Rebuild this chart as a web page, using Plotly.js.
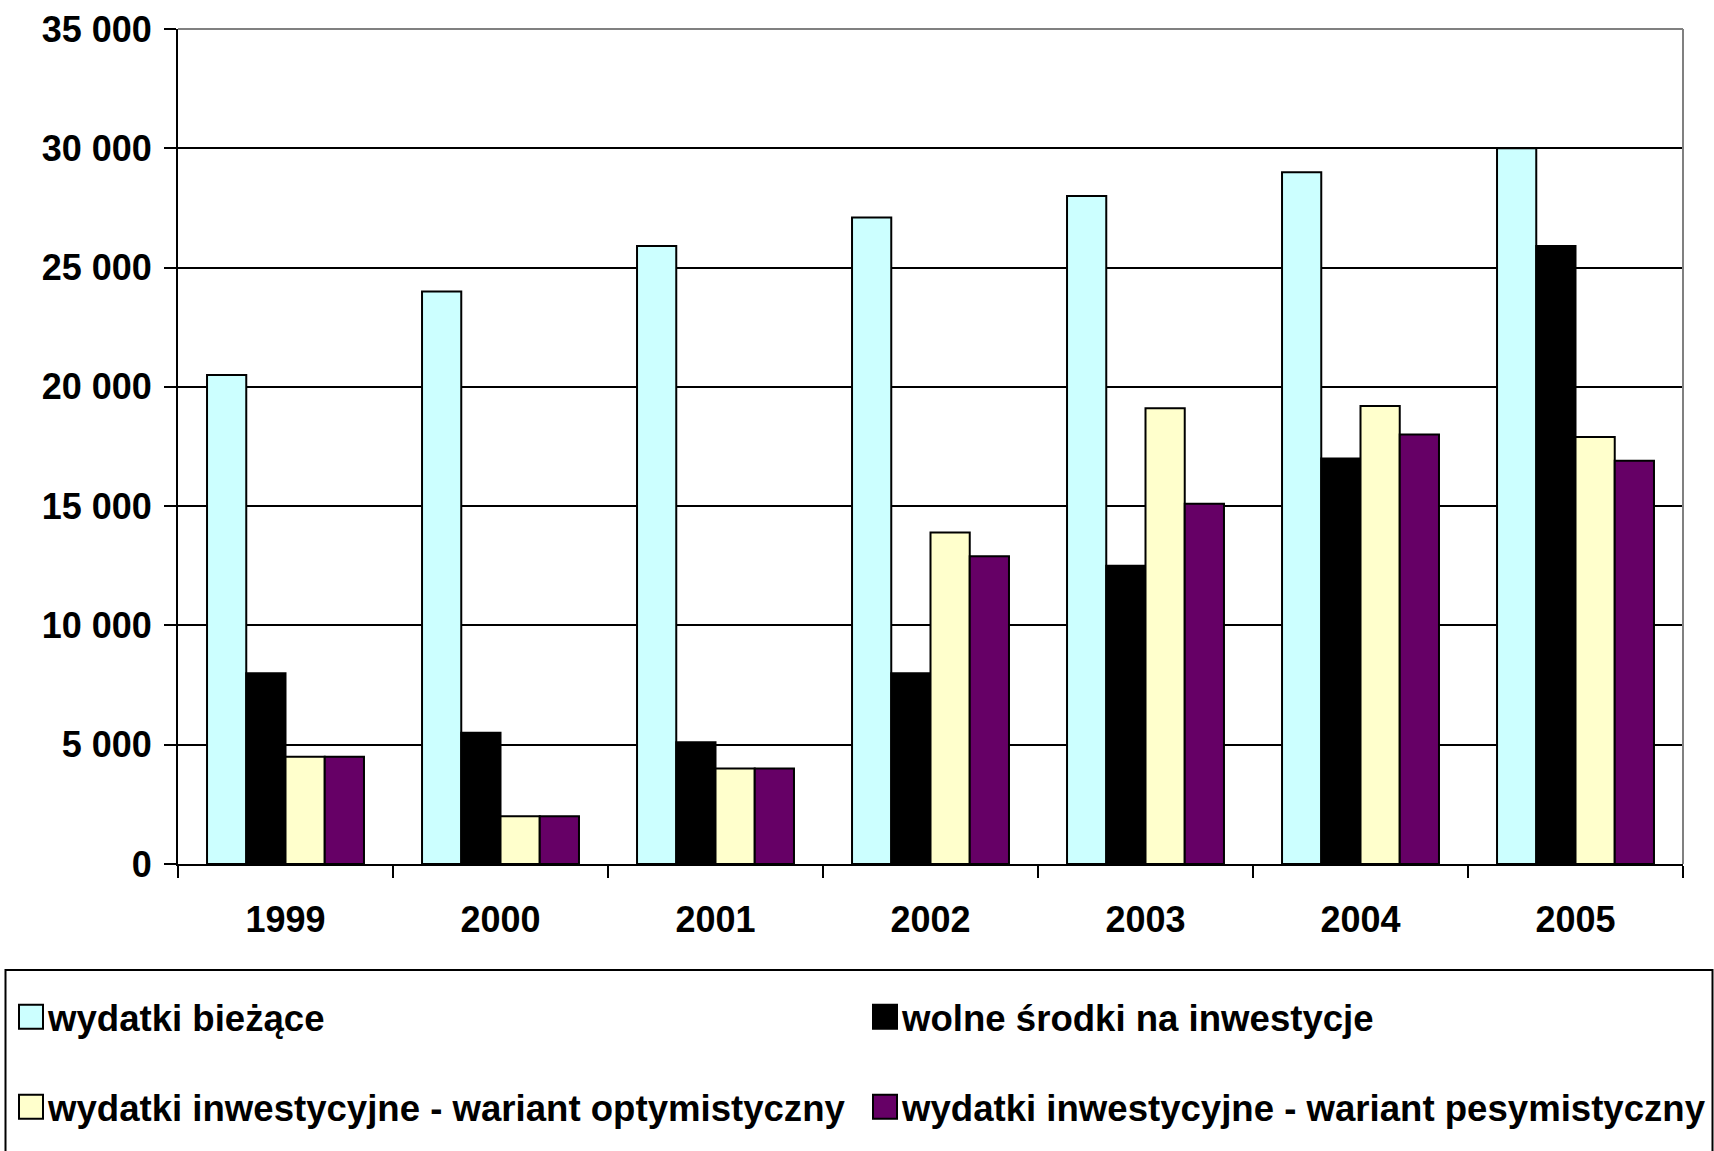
<!DOCTYPE html>
<html>
<head>
<meta charset="utf-8">
<script src="https://cdn.plot.ly/plotly-3.0.1.min.js"></script>
<style>html,body{margin:0;padding:0;background:#fff;}</style>
</head>
<body>
<div id="chart" style="width:1714px;height:1151px;"></div>
<script>
const years = ['1999', '2000', '2001', '2002', '2003', '2004', '2005'];
const seriesNames = [
  'wydatki bieżące',
  'wolne środki na inwestycje',
  'wydatki inwestycyjne - wariant optymistyczny',
  'wydatki inwestycyjne - wariant pesymistyczny'
];
const wydatkiBiezace = [20500, 24000, 25900, 27100, 28000, 29000, 30000];
const wolneSrodki = [8000, 5500, 5100, 8000, 12500, 17000, 25900];
const inwestOptym = [4500, 2000, 4000, 13900, 19100, 19200, 17900];
const inwestPesym = [4500, 2000, 4000, 12900, 15100, 18000, 16900];
const yTicks = [0, 5000, 10000, 15000, 20000, 25000, 30000, 35000];

const colors = ['#CCFFFF', '#000000', '#FFFFCC', '#660066'];
const FONT = 'Liberation Sans, Arial, sans-serif';
const allValues = [wydatkiBiezace, wolneSrodki, inwestOptym, inwestPesym];
const legendIds = ['legend', 'legend2', 'legend3', 'legend4'];

const traces = allValues.map((vals, i) => ({
  type: 'bar',
  name: seriesNames[i],
  x: years,
  y: vals,
  marker: {color: colors[i], line: {color: '#000000', width: 2}},
  legend: legendIds[i],
  hoverinfo: 'skip'
}));

function legendAt(px, py) {
  return {
    orientation: 'v',
    xref: 'container', yref: 'container',
    x: px / 1714, xanchor: 'left',
    y: 1 - py / 1151, yanchor: 'middle',
    font: {family: FONT, size: 36.6, color: '#000', weight: 'bold'},
    bgcolor: 'rgba(0,0,0,0)', borderwidth: 0
  };
}

const TICKFONT = {family: FONT, size: 36, color: '#000', weight: 'bold'};

const layout = {
  width: 1714, height: 1151,
  margin: {l: 178, r: 31, t: 29, b: 287, autoexpand: false},
  paper_bgcolor: '#ffffff',
  plot_bgcolor: '#ffffff',
  separators: ', ',
  barmode: 'group',
  bargap: 0.27,
  bargroupgap: 0,
  font: {family: FONT, size: 36, color: '#000', weight: 'bold'},
  showlegend: true,
  legend: legendAt(8, 1017),
  legend2: legendAt(862, 1017),
  legend3: legendAt(8, 1107),
  legend4: legendAt(862, 1107),
  xaxis: {
    type: 'category',
    automargin: false,
    tickangle: 0,
    showline: true, linecolor: '#000', linewidth: 2,
    ticks: 'outside', tickson: 'boundaries', ticklen: 12, tickwidth: 2, tickcolor: '#000',
    tickfont: TICKFONT,
    ticklabelstandoff: 23,
    showgrid: false, zeroline: false
  },
  yaxis: {
    range: [0, 35000],
    automargin: false,
    tickvals: yTicks,
    tickformat: ',d',
    showline: true, linecolor: '#000', linewidth: 2,
    ticks: 'outside', ticklen: 12, tickwidth: 2, tickcolor: '#000',
    tickfont: TICKFONT,
    ticklabelstandoff: 5,
    showgrid: true, gridcolor: '#000', gridwidth: 2,
    zeroline: false
  },
  shapes: [
    {type: 'line', xref: 'paper', yref: 'paper', x0: 0, x1: 1, y0: 1, y1: 1,
     line: {color: '#808080', width: 2}, layer: 'above'},
    {type: 'line', xref: 'paper', yref: 'paper', x0: 1, x1: 1, y0: 0, y1: 1,
     line: {color: '#808080', width: 2}, layer: 'above'},
    {type: 'rect', xref: 'paper', yref: 'paper',
     x0: (5.5 - 178) / 1505, x1: (1712.5 - 178) / 1505,
     y0: (864 - 1200) / 835, y1: (864 - 970) / 835,
     line: {color: '#000', width: 2}, fillcolor: 'rgba(0,0,0,0)', layer: 'below'}
  ]
};

Plotly.newPlot('chart', traces, layout, {displayModeBar: false, staticPlot: true}).then(gd => {
  gd.querySelectorAll('.legendpoints path').forEach(p => {
    p.setAttribute('d', 'M15,12H-9V-12H15Z');
  });
});
</script>
</body>
</html>
